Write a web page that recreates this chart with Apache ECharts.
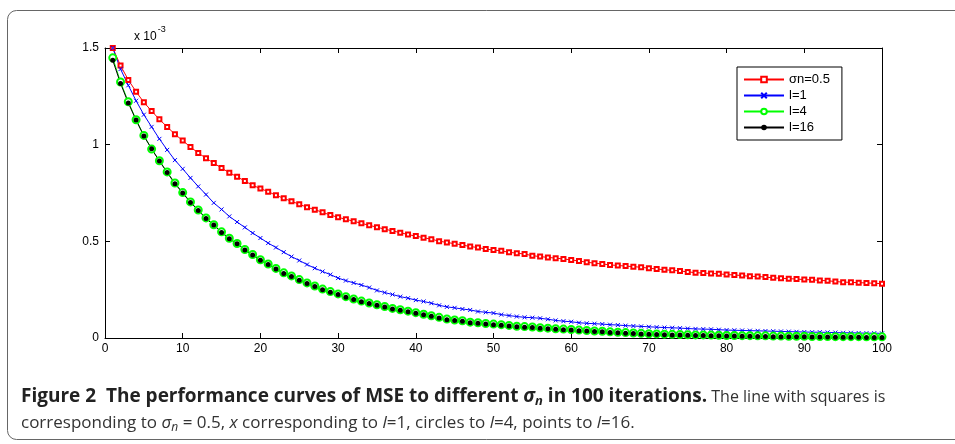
<!DOCTYPE html>
<html>
<head>
<meta charset="utf-8">
<script src="https://cdn.jsdelivr.net/npm/echarts@6/dist/echarts.min.js"></script>
<style>
  html, body { margin: 0; padding: 0; background: #fff; }
  #chart { width: 955px; height: 444px; }
</style>
</head>
<body>
<div id="chart"></div>
<script>
// MSE values, in units of 1e-3 (axis reads "x 10^-3")
const iterations = Array.from({ length: 100 }, (_, i) => i + 1)

const sigmaHalf = [
  1.500, 1.409, 1.335, 1.274, 1.219, 1.174, 1.131, 1.092, 1.054, 1.021,
  0.988, 0.957, 0.930, 0.905, 0.879, 0.855, 0.834, 0.812, 0.790, 0.773,
  0.757, 0.738, 0.723, 0.707, 0.692, 0.676, 0.664, 0.650, 0.636, 0.624,
  0.614, 0.604, 0.593, 0.583, 0.573, 0.563, 0.554, 0.545, 0.535, 0.527,
  0.519, 0.511, 0.501, 0.494, 0.488, 0.481, 0.473, 0.468, 0.460, 0.455,
  0.451, 0.443, 0.439, 0.434, 0.426, 0.421, 0.417, 0.413, 0.409, 0.404,
  0.398, 0.392, 0.387, 0.383, 0.378, 0.375, 0.372, 0.369, 0.366, 0.361,
  0.357, 0.353, 0.350, 0.347, 0.342, 0.338, 0.336, 0.334, 0.332, 0.328,
  0.326, 0.323, 0.319, 0.318, 0.315, 0.311, 0.309, 0.307, 0.305, 0.302,
  0.301, 0.298, 0.296, 0.292, 0.289, 0.288, 0.286, 0.285, 0.283, 0.281
]

const l1 = [
  1.500, 1.391, 1.307, 1.227, 1.155, 1.092, 1.030, 0.973, 0.920, 0.875,
  0.828, 0.784, 0.742, 0.699, 0.665, 0.629, 0.600, 0.572, 0.543, 0.517,
  0.491, 0.468, 0.444, 0.421, 0.401, 0.380, 0.361, 0.344, 0.328, 0.310,
  0.297, 0.285, 0.274, 0.261, 0.246, 0.235, 0.225, 0.214, 0.206, 0.196,
  0.189, 0.180, 0.169, 0.161, 0.156, 0.150, 0.145, 0.137, 0.133, 0.129,
  0.121, 0.116, 0.111, 0.107, 0.105, 0.102, 0.097, 0.091, 0.087, 0.084,
  0.079, 0.076, 0.074, 0.072, 0.069, 0.067, 0.064, 0.062, 0.060, 0.058,
  0.056, 0.054, 0.053, 0.051, 0.049, 0.047, 0.046, 0.045, 0.043, 0.041,
  0.040, 0.039, 0.038, 0.037, 0.036, 0.035, 0.034, 0.033, 0.032, 0.031,
  0.030, 0.030, 0.029, 0.028, 0.027, 0.027, 0.026, 0.025, 0.025, 0.024
]

const l4 = [
  1.449, 1.324, 1.222, 1.129, 1.048, 0.977, 0.917, 0.859, 0.802, 0.752,
  0.704, 0.662, 0.621, 0.586, 0.549, 0.516, 0.489, 0.458, 0.432, 0.405,
  0.383, 0.360, 0.337, 0.321, 0.302, 0.285, 0.269, 0.253, 0.240, 0.228,
  0.214, 0.202, 0.191, 0.181, 0.172, 0.163, 0.153, 0.146, 0.139, 0.131,
  0.123, 0.115, 0.107, 0.098, 0.093, 0.089, 0.082, 0.079, 0.075, 0.072,
  0.069, 0.065, 0.061, 0.059, 0.057, 0.053, 0.051, 0.048, 0.046, 0.044,
  0.041, 0.039, 0.036, 0.035, 0.032, 0.030, 0.028, 0.026, 0.024, 0.022,
  0.021, 0.020, 0.019, 0.018, 0.017, 0.016, 0.016, 0.015, 0.014, 0.013,
  0.013, 0.012, 0.012, 0.011, 0.011, 0.010, 0.010, 0.009, 0.009, 0.009,
  0.008, 0.008, 0.008, 0.007, 0.007, 0.007, 0.007, 0.006, 0.006, 0.006
]

const l16 = [
  1.436, 1.317, 1.216, 1.127, 1.045, 0.979, 0.915, 0.856, 0.798, 0.750,
  0.701, 0.660, 0.618, 0.584, 0.546, 0.513, 0.487, 0.455, 0.429, 0.402,
  0.380, 0.357, 0.334, 0.318, 0.299, 0.282, 0.266, 0.250, 0.237, 0.225,
  0.211, 0.199, 0.188, 0.178, 0.169, 0.160, 0.150, 0.143, 0.136, 0.128,
  0.120, 0.112, 0.104, 0.095, 0.090, 0.086, 0.079, 0.076, 0.072, 0.069,
  0.066, 0.062, 0.058, 0.056, 0.054, 0.050, 0.048, 0.045, 0.043, 0.041,
  0.038, 0.036, 0.033, 0.032, 0.029, 0.027, 0.025, 0.023, 0.021, 0.019,
  0.018, 0.017, 0.016, 0.015, 0.014, 0.013, 0.013, 0.012, 0.011, 0.010,
  0.010, 0.009, 0.009, 0.008, 0.008, 0.007, 0.007, 0.006, 0.006, 0.006,
  0.005, 0.005, 0.005, 0.004, 0.004, 0.004, 0.004, 0.003, 0.003, 0.003
]

const seriesNames = ['σn=0.5', 'l=1', 'l=4', 'l=16']
const xTicks = { min: 0, max: 100, interval: 10 }
const yTicks = { min: 0, max: 1.5, interval: 0.5 }

const pairs = arr => arr.map((v, i) => [iterations[i], v])

const axisFont = 'Liberation Sans, Arial, sans-serif'
const capFont = '"Liberation Sans Narrow", "Open Sans", sans-serif'

function boxAxis(pos, showLabel, isX) {
  const t = isX ? xTicks : yTicks
  return {
    type: 'value',
    position: pos,
    min: t.min,
    max: t.max,
    interval: t.interval,
    splitLine: { show: false },
    axisLine: { show: true, onZero: false, lineStyle: { color: '#000', width: 1 } },
    axisTick: { show: true, inside: true, length: 5, lineStyle: { color: '#000' } },
    axisLabel: {
      show: showLabel,
      color: '#000',
      fontSize: 12,
      fontFamily: axisFont,
      margin: isX ? 5 : 6,
      showMinLabel: true,
      showMaxLabel: true
    }
  }
}

const chart = echarts.init(document.getElementById('chart'), null, { renderer: 'canvas' })

const capStyle = (weight, style, size, color) => ({
  fontSize: size,
  fontWeight: weight,
  fontStyle: style,
  fontFamily: capFont,
  color: color
})

const option = {
  backgroundColor: '#fff',
  animation: false,
  grid: { left: 105, right: 73, top: 48, bottom: 106 },
  xAxis: [boxAxis('bottom', true, true), boxAxis('top', false, true)],
  yAxis: [boxAxis('left', true, false), boxAxis('right', false, false)],
  legend: {
    orient: 'vertical',
    left: 737,
    top: 67,
    width: 107,
    padding: [6, 12, 6, 6],
    itemGap: 3,
    itemWidth: 40,
    itemHeight: 7,
    borderColor: '#000',
    borderWidth: 1,
    backgroundColor: '#fff',
    textStyle: { color: '#000', fontSize: 13, lineHeight: 13, fontFamily: axisFont },
    data: seriesNames
  },
  graphic: [
    {
      type: 'rect',
      shape: { x: 7.5, y: 10.5, width: 990, height: 429, r: 9 },
      style: { fill: 'none', stroke: '#666', lineWidth: 1 },
      silent: true
    },
    {
      type: 'text',
      left: 134,
      top: 25,
      style: {
        text: '{a|x 10}{s|-3}',
        rich: {
          a: { fontSize: 12, fontFamily: axisFont, fill: '#000', padding: [8, 0, 0, 0] },
          s: { fontSize: 9, fontFamily: axisFont, fill: '#000', padding: [0, 0, 6, 1] }
        }
      }
    }
  ],
  title: {
    left: 16,
    top: 379,
    text: '{b|Figure 2  The performance curves of MSE to different }{bi|σ}{bs|n}{b| in 100 iterations.}{m| The line with squares is}\n' +
      '{n|corresponding to }{i|σ}{is|n}{n| = 0.5, }{i|x}{n| corresponding to }{i|l}{n|=1, circles to }{i|l}{n|=4, points to }{i|l}{n|=16.}',
    textStyle: {
      fontWeight: 'normal',
      rich: {
        b: Object.assign(capStyle('bold', 'normal', 19, '#222'), { lineHeight: 26 }),
        bi: Object.assign(capStyle('bold', 'italic', 19, '#222'), { lineHeight: 26 }),
        bs: Object.assign(capStyle('bold', 'italic', 13, '#222'), { padding: [9, 0, 0, 0] }),
        m: Object.assign(capStyle('normal', 'normal', 16, '#333'), { lineHeight: 26 }),
        n: Object.assign(capStyle('normal', 'normal', 17, '#333'), { lineHeight: 26 }),
        i: Object.assign(capStyle('normal', 'italic', 17, '#333'), { lineHeight: 26 }),
        is: Object.assign(capStyle('normal', 'italic', 12, '#333'), { padding: [9, 0, 0, 0] })
      }
    }
  },
  series: [
    {
      name: seriesNames[0],
      type: 'line',
      data: pairs(sigmaHalf),
      symbol: 'emptyRect',
      symbolSize: 4,
      lineStyle: { color: '#ff0000', width: 1 },
      itemStyle: { color: '#ff0000', borderColor: '#ff0000', borderWidth: 1 }
    },
    {
      name: seriesNames[1],
      type: 'line',
      data: pairs(l1),
      symbol: 'path://M0,0L10,10M0,10L10,0',
      symbolSize: 4,
      lineStyle: { color: '#0000ff', width: 1 },
      itemStyle: { color: '#0000ff', borderColor: '#0000ff', borderWidth: 1 }
    },
    {
      name: seriesNames[2],
      type: 'line',
      data: pairs(l4),
      symbol: 'emptyCircle',
      symbolSize: 7,
      lineStyle: { color: '#00ff00', width: 1 },
      itemStyle: { color: '#00ff00', borderColor: '#00ff00', borderWidth: 1 }
    },
    {
      name: seriesNames[3],
      type: 'line',
      data: pairs(l16),
      symbol: 'circle',
      symbolSize: 5,
      lineStyle: { color: '#000', width: 1 },
      itemStyle: { color: '#000' }
    }
  ]
}

chart.setOption(option)
</script>
</body>
</html>
